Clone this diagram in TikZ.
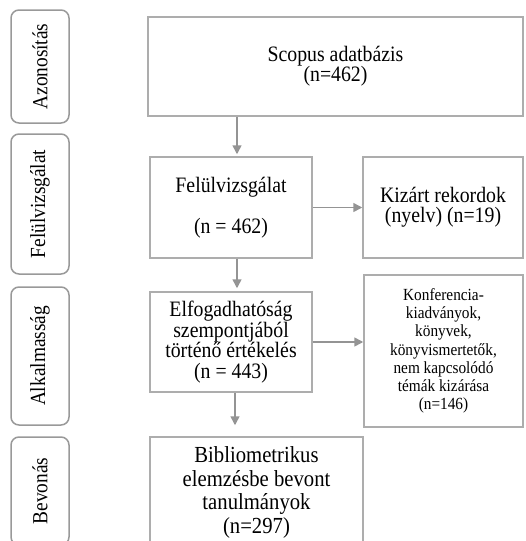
\documentclass[tikz,border=0pt]{standalone}
\usepackage{fontspec}
\setmainfont{Liberation Serif}[FakeStretch=0.9]
\usetikzlibrary{positioning, arrows.meta}

\begin{document}
\begin{tikzpicture}[
  x=1pt, y=-1pt,
  every node/.style={inner sep=0pt, align=center, font=\fontsize{22}{20}\selectfont},
  phase/.style={draw=black!40, line width=1.5pt, rounded corners=8pt, rotate=90,
    minimum height=58pt, font=\fontsize{21.5}{21.5}\selectfont},
  box/.style={draw=black!32, line width=1.5pt},
  flow/.style={draw=black!42, line width=1.5pt, -{Triangle[length=9pt,width=9pt]}},
]
\useasboundingbox (0,0) rectangle (526,541);

\node[phase, minimum width=113pt] (azon) at (40,66.5) {Azonosítás};
\node[phase, minimum width=140pt] (felul) at (40,204) {Felülvizsgálat};
\node[phase, minimum width=138pt] (alkal) at (40,356) {Alkalmasság};
\node[phase, minimum width=108pt] (bevon) at (40,491) {Bevonás};

\node[box, minimum width=375pt, minimum height=99pt] (scopus) at (335.5,66.5) {Scopus adatbázis\\(n=462)};
\node[box, minimum width=162pt, minimum height=101pt] (review) at (231,207.5) {Felülvizsgálat\\[20pt](n = 462)};
\node[box, minimum width=160pt, minimum height=101pt] (excl1) at (443,207.5) {Kizárt rekordok\\(nyelv) (n=19)};
\node[box, minimum width=162pt, minimum height=100pt, font=\fontsize{22}{20.5}\selectfont] (elig) at (231,342)
  {Elfogadhatóság\\szempontjából\\történő értékelés\\(n = 443)};
\node[box, minimum width=159pt, minimum height=152pt, font=\fontsize{17}{18.2}\selectfont] (excl2) at (443.5,351)
  {Konferencia-\\kiadványok,\\könyvek,\\könyvismertetők,\\nem kapcsolódó\\témák kizárása\\(n=146)};
\node[box, minimum width=213pt, minimum height=111pt, font=\fontsize{23}{23.5}\selectfont] (incl) at (256.5,492.5)
  {Bibliometrikus\\elemzésbe bevont\\tanulmányok\\(n=297)};

\draw[flow, shorten >=2pt] ([xshift=6pt]review.north |- scopus.south) -- ([xshift=6pt]review.north);
\draw[flow, shorten >=3pt] ([xshift=6pt]review.south) -- ([xshift=6pt]elig.north);
\draw[flow, shorten >=11pt] ([xshift=4pt]elig.south) -- ([xshift=4pt]elig.south |- incl.north);
\draw[flow] (review.east) -- (excl1.west);
\draw[flow] (elig.east) -- (elig.east -| excl2.west);
\end{tikzpicture}
\end{document}
